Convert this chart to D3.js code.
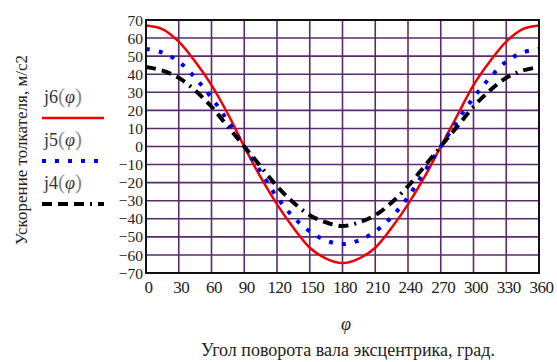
<!DOCTYPE html>
<html lang="ru">
<head>
<meta charset="UTF-8">
<title>Ускорение толкателя</title>
<script src="https://d3js.org/d3.v7.min.js"></script>
<style>
    body { margin: 0; background: #fff; }
</style>
</head>
<body>
<svg id="chart"></svg>
<script>
// угол поворота, град.
const angles = [0, 15, 30, 45, 60, 75, 90, 105, 120, 135, 150, 165, 180,
                195, 210, 225, 240, 255, 270, 285, 300, 315, 330, 345, 360];
// j6 - красная сплошная
const j6 = [67, 65, 58, 47, 34, 18, 0, -17, -32, -45, -56, -62, -64.5,
            -62, -56, -45, -32, -17, 0, 17, 34, 47, 58, 65, 67];
// j5 - синяя точечная
const j5 = [54, 52, 47, 38, 27, 14, 0, -14, -28, -39, -47, -52, -54,
            -52, -47, -39, -28, -14, 0, 14, 27, 38, 47, 52, 54];
// j4 - чёрная штрих-пунктир
const j4 = [44, 42, 38, 31, 22, 11, 0, -11, -22, -31, -38, -42, -44,
            -42, -38, -31, -22, -11, 0, 11, 22, 31, 38, 42, 44];

const xTicks = d3.range(0, 361, 30);
const yTicks = d3.range(-70, 71, 10);

const SERIF = '"Liberation Serif", "Times New Roman", serif';
const W = 557, H = 362;
const margin = { top: 20, right: 18, bottom: 89, left: 146 };
const width = W - margin.left - margin.right;
const height = H - margin.top - margin.bottom;

const svg = d3.select('#chart').attr('width', W).attr('height', H);
const g = svg.append('g').attr('transform', `translate(${margin.left},${margin.top})`);

const x = d3.scaleLinear().domain([0, 360]).range([0, width]);
const y = d3.scaleLinear().domain([-70, 70]).range([height, 0]);

// сетка
g.append('g').selectAll('line.v')
    .data(xTicks.slice(1, -1)).enter().append('line')
    .attr('x1', d => x(d)).attr('x2', d => x(d))
    .attr('y1', 0).attr('y2', height)
    .attr('stroke', '#5a2a6e').attr('stroke-width', 1.6);
g.append('g').selectAll('line.h')
    .data(yTicks.slice(1, -1)).enter().append('line')
    .attr('x1', 0).attr('x2', width)
    .attr('y1', d => y(d)).attr('y2', d => y(d))
    .attr('stroke', '#5a2a6e').attr('stroke-width', 1.6);

// оси
const fmt = d => d < 0 ? '\u2212' + Math.abs(d) : String(d);
const yAxis = g.append('g')
    .call(d3.axisLeft(y).tickValues(yTicks).tickSize(0).tickPadding(3).tickFormat(fmt));
yAxis.select('.domain').remove();
yAxis.selectAll('text')
    .attr('font-family', SERIF).attr('font-size', 15.5).attr('fill', '#222')
    .attr('dy', '0.33em');

const xAxis = g.append('g').attr('transform', `translate(0,${height})`)
    .call(d3.axisBottom(x).tickValues(xTicks).tickSize(0).tickPadding(8).tickFormat(d3.format('d')));
xAxis.select('.domain').remove();
xAxis.selectAll('text')
    .attr('font-family', SERIF).attr('font-size', 17).attr('fill', '#222')
    .attr('letter-spacing', -0.5).attr('dx', 2);

// кривые
const line = d3.line().curve(d3.curveCatmullRom);
const series = [
    { name: 'j6', data: j6, color: '#f00000', w: 2.5, dash: null },
    { name: 'j5', data: j5, color: '#0000f0', w: 4, dash: '4,9' },
    { name: 'j4', data: j4, color: '#000', w: 4, dash: '10,6,10,6,10,6,2,6' }
];
svg.append('clipPath').attr('id', 'clip')
    .append('rect').attr('width', width).attr('height', height);
g.append('g').attr('clip-path', 'url(#clip)').selectAll('path')
    .data(series).enter().append('path')
    .attr('d', s => line(angles.map((a, i) => [x(a), y(s.data[i])])))
    .attr('fill', 'none')
    .attr('stroke', s => s.color)
    .attr('stroke-width', s => s.w)
    .attr('stroke-dasharray', s => s.dash);

// рамка
g.append('rect').attr('width', width).attr('height', height)
    .attr('fill', 'none').attr('stroke', '#111').attr('stroke-width', 2);

// легенда
const legY = [103, 146, 189];
const leg = svg.append('g');
series.forEach((s, i) => {
    const t = leg.append('text').attr('x', 44).attr('y', legY[i])
        .attr('font-family', SERIF).attr('font-size', 18).attr('fill', '#333');
    t.append('tspan').text(s.name);
    t.append('tspan').text('(').attr('font-size', 21).attr('fill', '#888');
    t.append('tspan').text('φ').attr('font-style', 'italic');
    t.append('tspan').text(')').attr('font-size', 21).attr('fill', '#888');
    leg.append('line')
        .attr('x1', 42).attr('x2', 104)
        .attr('y1', legY[i] + 15).attr('y2', legY[i] + 15)
        .attr('stroke', s.color).attr('stroke-width', s.w)
        .attr('stroke-dasharray', s.dash);
});

// подписи осей
svg.append('text')
    .attr('transform', 'translate(27,150) rotate(-90)')
    .attr('text-anchor', 'middle')
    .attr('font-family', SERIF).attr('font-size', 17).attr('fill', '#222')
    .text('Ускорение толкателя, м/с2');

svg.append('text')
    .attr('x', 346).attr('y', 330)
    .attr('text-anchor', 'middle')
    .attr('font-family', SERIF).attr('font-size', 18).attr('font-style', 'italic').attr('fill', '#222')
    .text('φ');

svg.append('text')
    .attr('x', 348).attr('y', 356)
    .attr('text-anchor', 'middle')
    .attr('font-family', SERIF).attr('font-size', 18).attr('fill', '#222')
    .text('Угол поворота вала эксцентрика, град.');
</script>
</body>
</html>
